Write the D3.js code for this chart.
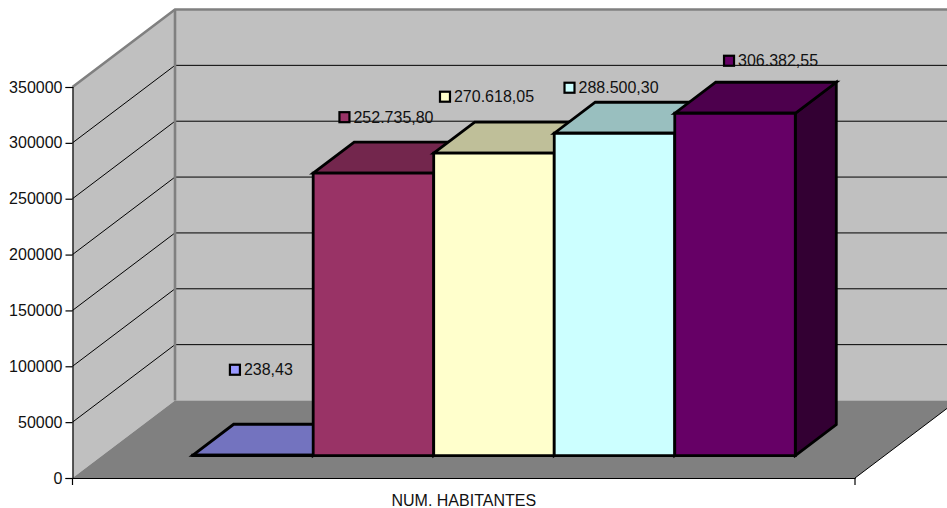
<!DOCTYPE html>
<html>
<head>
<meta charset="utf-8">
<script src="https://cdn.jsdelivr.net/npm/d3@7"></script>
<style>
  html, body { margin: 0; padding: 0; background: #fff; }
  svg { display: block; }
  text { font-family: "Liberation Sans", Arial, sans-serif; font-size: 16px; fill: #111; }
</style>
</head>
<body>
<div id="chart"></div>
<script>
// Population figures, one box per series inside a single category.
const categories = ["NUM. HABITANTES"];
const seriesKeys = ["s1", "s2", "s3", "s4", "s5"];
const seriesValues = [238.43, 252735.80, 270618.05, 288500.30, 306382.55];
const seriesLabels = ["238,43", "252.735,80", "270.618,05", "288.500,30", "306.382,55"];
const frontColors = ["#9999ff", "#993366", "#ffffcc", "#ccffff", "#660066"];
const yTicks = [0, 50000, 100000, 150000, 200000, 250000, 300000, 350000];

const width = 947, height = 508;

const svg = d3.select("#chart").append("svg")
  .attr("width", width).attr("height", height);

// Front plane of the oblique projection.
const y = d3.scaleLinear().domain([0, 350000]).range([478, 87]);
const xCat = d3.scaleBand().domain(categories).range([72.5, 855]);
const xBar = d3.scaleBand().domain(seriesKeys).range([73.5, 855])
  .paddingInner(0).paddingOuter(0.742);

// Depth runs from 0 (front of floor) to 1 (back wall).
const depthX = d3.scaleLinear().domain([0, 1]).range([0, 102.5]);
const depthY = d3.scaleLinear().domain([0, 1]).range([0, -77.5]);
const project = (px, v, z) => [px + depthX(z), y(v) + depthY(z)];
const barFront = 0.29, barBack = 0.69;

const poly = pts => pts.map(p => p.join(",")).join(" ");
const xMin = xCat.range()[0], xMax = xCat.range()[1], vTop = y.domain()[1];

// Walls and floor.
svg.append("polygon").attr("fill", "#c0c0c0").attr("points", poly([
  project(xMin, 0, 1), project(xMax, 0, 1), project(xMax, vTop, 1), project(xMin, vTop, 1)]));
svg.append("polygon").attr("fill", "#c0c0c0").attr("points", poly([
  project(xMin, 0, 0), project(xMin, 0, 1), project(xMin, vTop, 1), project(xMin, vTop, 0)]));
svg.append("polygon").attr("fill", "#808080").attr("points", poly([
  project(xMin, 0, 0), project(xMax, 0, 0), project(xMax, 0, 1), project(xMin, 0, 1)]));

// Gridlines across the side wall and back wall.
const grid = svg.append("g").attr("stroke", "#000").attr("stroke-width", 1).attr("fill", "none");
yTicks.slice(1, -1).forEach(t => {
  grid.append("polyline").attr("points", poly([
    project(xMin, t, 0), project(xMin, t, 1), project(xMax, t, 1)]));
});

// Grey wall edges.
svg.append("polyline").attr("fill", "none").attr("stroke", "#808080").attr("stroke-width", 2.6)
  .attr("points", poly([project(xMin, vTop, 0), project(xMin, vTop, 1), project(xMax, vTop, 1)]));
svg.append("line").attr("stroke", "#808080").attr("stroke-width", 2.6)
  .attr("x1", project(xMin, 0, 1)[0]).attr("y1", project(xMin, 0, 1)[1])
  .attr("x2", project(xMin, vTop, 1)[0]).attr("y2", project(xMin, vTop, 1)[1]);

// Boxes, drawn left to right so each one covers its neighbour's side face.
const shade = (c, k) => { const r = d3.rgb(c); return d3.rgb(r.r * k, r.g * k, r.b * k).formatHex(); };
const bars = svg.append("g").attr("stroke", "#000").attr("stroke-width", 2.8).attr("stroke-linejoin", "miter");

seriesKeys.forEach((key, i) => {
  const x0 = xBar(key), x1 = x0 + xBar.bandwidth(), v = seriesValues[i], c = frontColors[i];
  const g = bars.append("g");
  g.append("polygon").attr("fill", shade(c, 0.5)).attr("points", poly([
    project(x1, 0, barFront), project(x1, 0, barBack), project(x1, v, barBack), project(x1, v, barFront)]));
  g.append("polygon").attr("fill", shade(c, 0.75)).attr("points", poly([
    project(x0, v, barFront), project(x1, v, barFront), project(x1, v, barBack), project(x0, v, barBack)]));
  g.append("polygon").attr("fill", c).attr("points", poly([
    project(x0, 0, barFront), project(x1, 0, barFront), project(x1, v, barFront), project(x0, v, barFront)]));
});

// Value labels with their colour keys, each shifted from the top of its box.
const labelShift = [[-44.5, -70], [-55.5, -40.5], [-75.5, -41], [-71.5, -30], [-32.5, -37]];
const labels = svg.append("g");
seriesKeys.forEach((key, i) => {
  const [ax, ay] = project(xBar(key) + xBar.bandwidth() / 2, seriesValues[i], (barFront + barBack) / 2);
  const lx = ax + labelShift[i][0], ly = ay + labelShift[i][1];
  labels.append("rect").attr("x", lx + 1).attr("y", ly - 5).attr("width", 10).attr("height", 10)
    .attr("fill", frontColors[i]).attr("stroke", "#000").attr("stroke-width", 2.2);
  labels.append("text").attr("x", lx + 15).attr("y", ly + 5.6).text(seriesLabels[i]);
});

// Axes.
const yAxis = svg.append("g").attr("transform", `translate(${xMin},0)`)
  .call(d3.axisLeft(y).tickValues(yTicks).tickFormat(d3.format("d")).tickSize(7).tickPadding(3));
yAxis.selectAll("path, line").attr("stroke", "#000").attr("stroke-width", 1.2);
yAxis.selectAll("text").style("font-family", '"Liberation Sans", Arial, sans-serif').style("font-size", "16px");

const xAxis = svg.append("g").attr("transform", `translate(0,${y(0)})`)
  .call(d3.axisBottom(xCat).tickSize(0).tickPadding(17));
xAxis.select("path").attr("stroke", "#000").attr("stroke-width", 1.2);
xAxis.selectAll("text").style("font-family", '"Liberation Sans", Arial, sans-serif').style("font-size", "16px");
xCat.range().forEach(px => {
  xAxis.append("line").attr("x1", px).attr("x2", px).attr("y1", 0).attr("y2", 7)
    .attr("stroke", "#000").attr("stroke-width", 1.2);
});

// Right edge of the floor, running off the page.
svg.append("line").attr("stroke", "#000").attr("stroke-width", 1)
  .attr("x1", project(xMax, 0, 0)[0]).attr("y1", project(xMax, 0, 0)[1])
  .attr("x2", project(xMax, 0, 1)[0]).attr("y2", project(xMax, 0, 1)[1]);
</script>
</body>
</html>
